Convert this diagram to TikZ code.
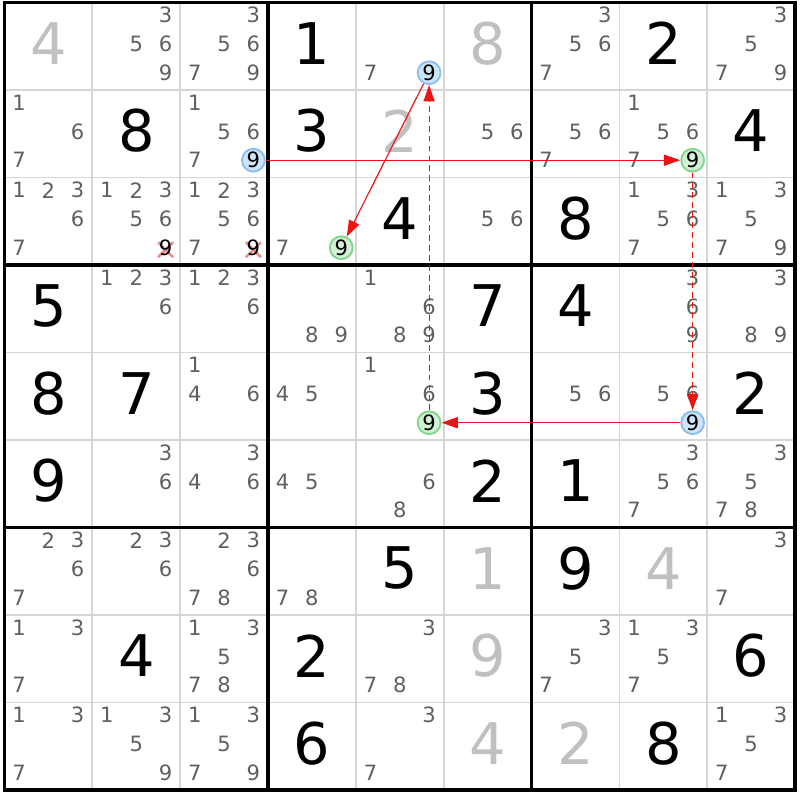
\documentclass[tikz,border=0pt]{standalone}
\usepackage{fontspec}
\setmainfont{DejaVu Sans}
\usetikzlibrary{arrows.meta}
\definecolor{candc}{RGB}{96,96,96}
\definecolor{solvc}{RGB}{192,192,192}
\definecolor{thinc}{RGB}{214,214,214}
\definecolor{bluef}{RGB}{206,228,248}
\definecolor{blued}{RGB}{140,190,240}
\definecolor{greenf}{RGB}{210,240,212}
\definecolor{greend}{RGB}{130,214,140}
\definecolor{crossc}{RGB}{238,140,140}
\definecolor{linkc}{RGB}{235,20,20}
\tikzset{
  cand/.style={inner sep=0pt, text=candc, font=\fontsize{18}{20}\selectfont},
  given/.style={inner sep=0pt, text=black, font=\fontsize{49}{56}\selectfont},
  solved/.style={given, text=solvc},
  bluecirc/.style={circle, inner sep=0pt, minimum size=19.5pt, draw=blued, fill=bluef, line width=1.6pt, text=black, font=\fontsize{18}{20}\selectfont},
  greencirc/.style={bluecirc, draw=greend, fill=greenf},
  crossnum/.style={cand, text=black},
  crossline/.style={draw=crossc, line width=2.2pt},
  thinline/.style={draw=thinc, line width=1.6pt},
  thickline/.style={draw=black, line width=3pt},
  link/.style={draw=linkc, line width=1pt, -{Triangle[length=14pt,width=9.5pt]}},
  weaklink/.style={link, dash pattern=on 5pt off 3.5pt}
}
\newcommand\candat[5]{\node[#4] (#5) at ({4.5+(#2-1)*87.85+14.6+29.3*mod(#3-1,3)},{2.5+(#1-1)*87.5+12.8+28.7*int((#3-1)/3)}) {#3};}
\newcommand\cands[3]{\foreach \n in {#3}{\candat{#1}{#2}{\n}{cand}{k#1#2\n}}}
\newcommand\bigdig[4]{\node[#4] (g#1#2) at ({4.5+(#2-0.5)*87.85},{2.5+(#1-0.5)*87.5-3}) {#3};}
\newcommand\crossnine[2]{%
  \coordinate (xc#1#2) at ({4.5+(#2-1)*87.85+14.6+29.3*2},{2.5+(#1-1)*87.5+12.8+28.7*2});
  \draw[crossline] ([shift={(-7.5,-5.5)}]xc#1#2) -- ([shift={(7.5,9.5)}]xc#1#2)
                   ([shift={(-7.5,9.5)}]xc#1#2) -- ([shift={(7.5,-5.5)}]xc#1#2);
  \node[crossnum] (x#1#2) at (xc#1#2) {9};}
\begin{document}
\begin{tikzpicture}[x=0.03cm,y=-0.03cm]
\fill[white] (0,0) rectangle (800,800);
\useasboundingbox (0,0) rectangle (800,800);
% grid
\foreach \k in {1,2,4,5,7,8}{
  \draw[thinline] ({4.5+\k*87.85},2.5) -- ({4.5+\k*87.85},790);
  \draw[thinline] (4.5,{2.5+\k*87.5}) -- (795.15,{2.5+\k*87.5});
}
\foreach \k in {3,6}{
  \draw[thickline] ({4.5+\k*87.85},2.5) -- ({4.5+\k*87.85},790);
  \draw[thickline] (4.5,{2.5+\k*87.5}) -- (795.15,{2.5+\k*87.5});
}
\draw[thickline] (4.5,2.5) rectangle (795.15,790);
% row 1
\bigdig{1}{1}{4}{solved}
\cands{1}{2}{3,5,6,9}
\cands{1}{3}{3,5,6,7,9}
\bigdig{1}{4}{1}{given}
\cands{1}{5}{7}
\candat{1}{5}{9}{bluecirc}{n15}
\bigdig{1}{6}{8}{solved}
\cands{1}{7}{3,5,6,7}
\bigdig{1}{8}{2}{given}
\cands{1}{9}{3,5,7,9}
% row 2
\cands{2}{1}{1,6,7}
\bigdig{2}{2}{8}{given}
\cands{2}{3}{1,5,6,7}
\candat{2}{3}{9}{bluecirc}{n23}
\bigdig{2}{4}{3}{given}
\bigdig{2}{5}{2}{solved}
\cands{2}{6}{5,6}
\cands{2}{7}{5,6,7}
\cands{2}{8}{1,5,6,7}
\candat{2}{8}{9}{greencirc}{n28}
\bigdig{2}{9}{4}{given}
% row 3
\cands{3}{1}{1,2,3,6,7}
\cands{3}{2}{1,2,3,5,6}
\crossnine{3}{2}
\cands{3}{3}{1,2,3,5,6,7}
\crossnine{3}{3}
\cands{3}{4}{7}
\candat{3}{4}{9}{greencirc}{n34}
\bigdig{3}{5}{4}{given}
\cands{3}{6}{5,6}
\bigdig{3}{7}{8}{given}
\cands{3}{8}{1,3,5,6,7}
\cands{3}{9}{1,3,5,7,9}
% row 4
\bigdig{4}{1}{5}{given}
\cands{4}{2}{1,2,3,6}
\cands{4}{3}{1,2,3,6}
\cands{4}{4}{8,9}
\cands{4}{5}{1,6,8,9}
\bigdig{4}{6}{7}{given}
\bigdig{4}{7}{4}{given}
\cands{4}{8}{3,6,9}
\cands{4}{9}{3,8,9}
% row 5
\bigdig{5}{1}{8}{given}
\bigdig{5}{2}{7}{given}
\cands{5}{3}{1,4,6}
\cands{5}{4}{4,5}
\cands{5}{5}{1,6}
\candat{5}{5}{9}{greencirc}{n55}
\bigdig{5}{6}{3}{given}
\cands{5}{7}{5,6}
\cands{5}{8}{5,6}
\candat{5}{8}{9}{bluecirc}{n58}
\bigdig{5}{9}{2}{given}
% row 6
\bigdig{6}{1}{9}{given}
\cands{6}{2}{3,6}
\cands{6}{3}{3,4,6}
\cands{6}{4}{4,5}
\cands{6}{5}{6,8}
\bigdig{6}{6}{2}{given}
\bigdig{6}{7}{1}{given}
\cands{6}{8}{3,5,6,7}
\cands{6}{9}{3,5,7,8}
% row 7
\cands{7}{1}{2,3,6,7}
\cands{7}{2}{2,3,6}
\cands{7}{3}{2,3,6,7,8}
\cands{7}{4}{7,8}
\bigdig{7}{5}{5}{given}
\bigdig{7}{6}{1}{solved}
\bigdig{7}{7}{9}{given}
\bigdig{7}{8}{4}{solved}
\cands{7}{9}{3,7}
% row 8
\cands{8}{1}{1,3,7}
\bigdig{8}{2}{4}{given}
\cands{8}{3}{1,3,5,7,8}
\bigdig{8}{4}{2}{given}
\cands{8}{5}{3,7,8}
\bigdig{8}{6}{9}{solved}
\cands{8}{7}{3,5,7}
\cands{8}{8}{1,3,5,7}
\bigdig{8}{9}{6}{given}
% row 9
\cands{9}{1}{1,3,7}
\cands{9}{2}{1,3,5,9}
\cands{9}{3}{1,3,5,7,9}
\bigdig{9}{4}{6}{given}
\cands{9}{5}{3,7}
\bigdig{9}{6}{4}{solved}
\bigdig{9}{7}{2}{solved}
\bigdig{9}{8}{8}{given}
\cands{9}{9}{1,3,5,7}
% chain
\draw[link] (n15) -- (n34);
\draw[weaklink] (n55) -- (n15);
\draw[link] (n23) -- (n28);
\draw[weaklink] (n28) -- (n58);
\draw[link] (n58) -- (n55);
\end{tikzpicture}
\end{document}
